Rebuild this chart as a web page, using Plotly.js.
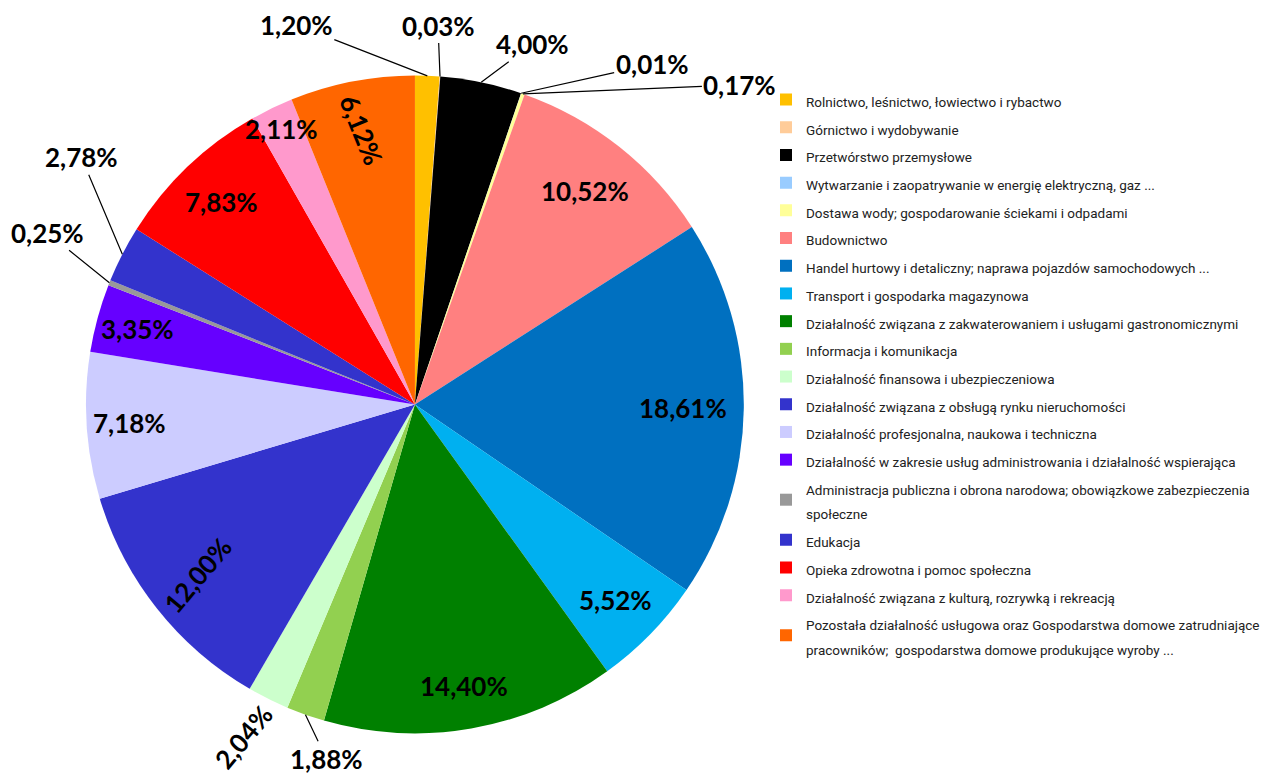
<!DOCTYPE html>
<html>
<head>
<meta charset="utf-8">
<script src="https://cdn.plot.ly/plotly-3.0.1.min.js"></script>
<style>html,body{margin:0;padding:0;background:#fff;}#chart{width:1265px;height:776px;}</style>
</head>
<body>
<div id="chart"></div>
<script>
const categories = [
  "Rolnictwo, leśnictwo, łowiectwo i rybactwo",
  "Górnictwo i wydobywanie",
  "Przetwórstwo przemysłowe",
  "Wytwarzanie i zaopatrywanie w energię elektryczną, gaz ...",
  "Dostawa wody; gospodarowanie ściekami i odpadami",
  "Budownictwo",
  "Handel hurtowy i detaliczny; naprawa pojazdów samochodowych ...",
  "Transport i gospodarka magazynowa",
  "Działalność związana z zakwaterowaniem i usługami gastronomicznymi",
  "Informacja i komunikacja",
  "Działalność finansowa i ubezpieczeniowa",
  "Działalność związana z obsługą rynku nieruchomości",
  "Działalność profesjonalna, naukowa i techniczna",
  "Działalność w zakresie usług administrowania i działalność wspierająca",
  "Administracja publiczna i obrona narodowa; obowiązkowe zabezpieczenia<br>społeczne",
  "Edukacja",
  "Opieka zdrowotna i pomoc społeczna",
  "Działalność związana z kulturą, rozrywką i rekreacją",
  "Pozostała działalność usługowa oraz Gospodarstwa domowe zatrudniające<br>pracowników;  gospodarstwa domowe produkujące wyroby ..."
];
const shares = [1.20, 0.03, 4.00, 0.01, 0.17, 10.52, 18.61, 5.52, 14.40, 1.88, 2.04, 12.00, 7.18, 3.35, 0.25, 2.78, 7.83, 2.11, 6.12];
const sliceColors = ["#FFC000", "#FFCC99", "#000000", "#99CCFF", "#FFFF99", "#FF8080", "#0070C0", "#00B0F0", "#008000", "#92D050", "#CCFFCC", "#3333CC", "#CCCCFF", "#6600FF", "#999999", "#3333CC", "#FF0000", "#FF99CC", "#FF6600"];

// label styling per slice:
//   rf   -> label sits on the slice's mid-angle at this fraction of the radius
//   dx/dy-> label offset (px) from the slice's outer-edge midpoint; line = leader line
//   angle-> text rotation
const labelStyle = [
  {dx: -131, dy: -51, line: true},
  {dx: -2, dy: -51, line: true},
  {dx: 51, dy: -38, line: true},
  {dx: 131, dy: -29, line: true},
  {dx: 217, dy: -9, line: true},
  {rf: 0.83},
  {rf: 0.815},
  {rf: 0.85},
  {rf: 0.87},
  {dx: 21, dy: 44, line: true},
  {dx: -25, dy: 38, line: false, angle: -50},
  {rf: 0.84, angle: -50},
  {rf: 0.87},
  {rf: 0.875},
  {dx: -62, dy: -50, line: true},
  {dx: -41, dy: -97, line: true},
  {rf: 0.85},
  {rf: 0.93},
  {rf: 0.85, angle: 68}
];

const W = 1265, H = 776;
const domX = [0.068, 0.588], domY = [0.0548, 0.9027];
const labelFont = {family: 'Lato, "Open Sans", sans-serif', size: 26, color: '#000', weight: 'bold'};

const legendNames = categories.map(c => '<span style="font-size:13.5px">' + c + '</span>');
const fmt = v => v.toFixed(2).replace('.', ',') + '%';

const trace = {
  type: 'pie',
  labels: legendNames,
  values: shares,
  sort: false,
  direction: 'clockwise',
  rotation: 0,
  marker: {colors: sliceColors, line: {width: 0}},
  textinfo: 'none',
  textposition: 'none',
  domain: {x: domX, y: domY},
  automargin: false,
  hoverinfo: 'none'
};

const layout = {
  width: W,
  height: H,
  margin: {l: 0, r: 0, t: 0, b: 0},
  paper_bgcolor: '#fff',
  separators: ', ',
  showlegend: true,
  legend: {
    x: 1, y: 0.896, xanchor: 'right', yanchor: 'top',
    font: {family: 'Roboto, "Open Sans", sans-serif', size: 19, color: '#222'},
    bgcolor: 'rgba(0,0,0,0)'
  }
};

function buildAnnotations(cx, cy, r, toPaperX, toPaperY) {
  const total = shares.reduce((a, b) => a + b, 0);
  const out = [];
  let cum = 0;
  shares.forEach((v, i) => {
    const mid = (cum + v / 2) / total * 2 * Math.PI;
    cum += v;
    const s = labelStyle[i];
    const ux = Math.sin(mid), uy = -Math.cos(mid);
    const base = {
      xref: 'paper', yref: 'paper',
      text: fmt(v),
      font: labelFont,
      textangle: s.angle || 0,
      xanchor: 'center', yanchor: 'middle'
    };
    if (s.rf !== undefined) {
      Object.assign(base, {x: toPaperX(cx + s.rf * r * ux), y: toPaperY(cy + s.rf * r * uy), showarrow: false});
    } else {
      const tx = cx + r * ux, ty = cy + r * uy;
      Object.assign(base, {x: toPaperX(tx), y: toPaperY(ty)});
      if (s.line) {
        Object.assign(base, {showarrow: true, arrowhead: 0, arrowwidth: 1.2, arrowcolor: '#000', ax: s.dx, ay: s.dy, standoff: 0});
      } else {
        Object.assign(base, {showarrow: false, xshift: s.dx, yshift: -s.dy});
      }
    }
    out.push(base);
  });
  return out;
}

const gd = document.getElementById('chart');
Plotly.newPlot(gd, [trace], layout, {displayModeBar: false, staticPlot: true}).then(() => {
  const sz = gd._fullLayout._size;
  let cx = sz.l + sz.w * (domX[0] + domX[1]) / 2;
  let cy = sz.t + sz.h * (1 - (domY[0] + domY[1]) / 2);
  let r = Math.min(sz.w * (domX[1] - domX[0]), sz.h * (domY[1] - domY[0])) / 2;
  const cd0 = gd.calcdata && gd.calcdata[0] && gd.calcdata[0][0];
  if (cd0 && isFinite(cd0.cx) && isFinite(cd0.r)) { cx = cd0.cx; cy = cd0.cy; r = cd0.r; }
  const toPaperX = px => (px - sz.l) / sz.w;
  const toPaperY = py => 1 - (py - sz.t) / sz.h;
  return Plotly.relayout(gd, {annotations: buildAnnotations(cx, cy, r, toPaperX, toPaperY)});
});
</script>
</body>
</html>
